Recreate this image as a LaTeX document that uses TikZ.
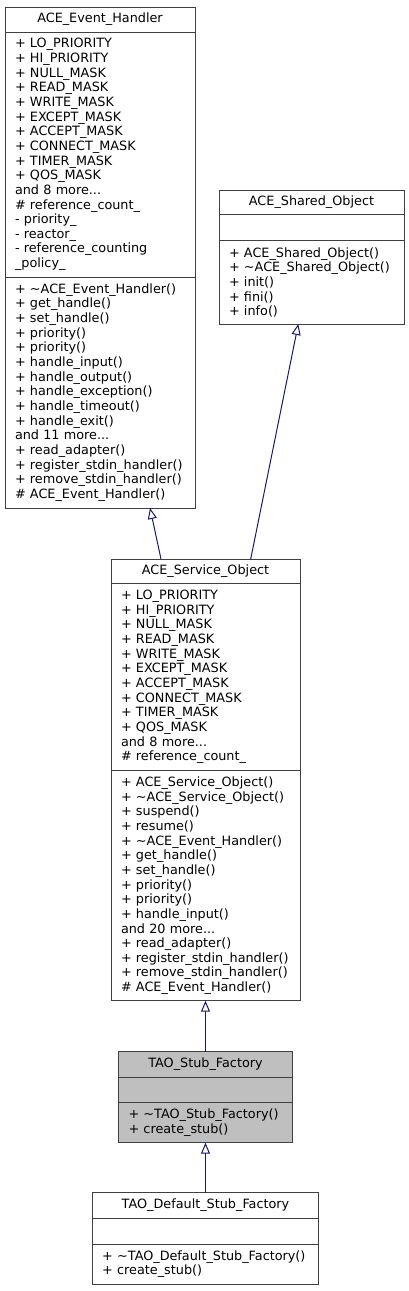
\documentclass[tikz,border=0pt]{standalone}
\usepackage{fontspec}
\newfontfamily\umlfont{DejaVu Sans}
\usetikzlibrary{positioning,arrows.meta}
\definecolor{boxline}{HTML}{404040}
\definecolor{edgeblue}{HTML}{191970}
\definecolor{focusgray}{HTML}{BFBFBF}

\tikzset{
	part/.style={draw=boxline, fill=white, line width=1pt, outer sep=0pt, inner xsep=10pt, inner ysep=0pt, font=\umlfont\fontsize{12.8}{14.65}\selectfont},
	classname/.style={part, align=center, minimum height=25pt},
	members/.style={part, align=left},
	focus/.style={fill=focusgray},
	inherit/.style={edgeblue, line width=1pt, -{Triangle[open, length=11pt, width=9pt, fill=white]}}
}

\begin{document}
\begin{tikzpicture}[x=1pt, y=-1pt]
\useasboundingbox (0,0) rectangle (409,1291);

% ACE_Event_Handler
\node (handler) at (5,7) [classname, anchor=north west, text width=170pt] {ACE\_Event\_Handler};
\node (handler-a) [members, below=0pt of handler, text width=170pt, minimum height=245pt] {+~LO\_PRIORITY\\+~HI\_PRIORITY\\+~NULL\_MASK\\+~READ\_MASK\\+~WRITE\_MASK\\+~EXCEPT\_MASK\\+~ACCEPT\_MASK\\+~CONNECT\_MASK\\+~TIMER\_MASK\\+~QOS\_MASK\\and 8 more...\\\#~reference\_count\_\\-~priority\_\\-~reactor\_\\-~reference\_counting\\\_policy\_};
\node (handler-m) [members, below=0pt of handler-a, text width=170pt, minimum height=231pt] {+~\textasciitilde ACE\_Event\_Handler()\\+~get\_handle()\\+~set\_handle()\\+~priority()\\+~priority()\\+~handle\_input()\\+~handle\_output()\\+~handle\_exception()\\+~handle\_timeout()\\+~handle\_exit()\\and 11 more...\\+~read\_adapter()\\+~register\_stdin\_handler()\\+~remove\_stdin\_handler()\\\#~ACE\_Event\_Handler()};

% ACE_Shared_Object
\node (shared) at (219,190) [classname, anchor=north west, text width=165pt, minimum height=24.3pt] {ACE\_Shared\_Object};
\node (shared-a) [members, below=0pt of shared, text width=165pt, minimum height=26.4pt] {};
\node (shared-m) [members, below=0pt of shared-a, text width=165pt, minimum height=83.3pt] {+~ACE\_Shared\_Object()\\+~\textasciitilde ACE\_Shared\_Object()\\+~init()\\+~fini()\\+~info()};

% ACE_Service_Object
\node (service) at (111,559) [classname, anchor=north west, text width=169pt, minimum height=24pt] {ACE\_Service\_Object};
\node (service-a) [members, below=0pt of service, text width=169pt, minimum height=187.7pt] {+~LO\_PRIORITY\\+~HI\_PRIORITY\\+~NULL\_MASK\\+~READ\_MASK\\+~WRITE\_MASK\\+~EXCEPT\_MASK\\+~ACCEPT\_MASK\\+~CONNECT\_MASK\\+~TIMER\_MASK\\+~QOS\_MASK\\and 8 more...\\\#~reference\_count\_};
\node (service-m) [members, below=0pt of service-a, text width=169pt, minimum height=230pt] {+~ACE\_Service\_Object()\\+~\textasciitilde ACE\_Service\_Object()\\+~suspend()\\+~resume()\\+~\textasciitilde ACE\_Event\_Handler()\\+~get\_handle()\\+~set\_handle()\\+~priority()\\+~priority()\\+~handle\_input()\\and 20 more...\\+~read\_adapter()\\+~register\_stdin\_handler()\\+~remove\_stdin\_handler()\\\#~ACE\_Event\_Handler()};

% TAO_Stub_Factory
\node (stub) at (118.5,1051.7) [classname, focus, anchor=north west, text width=154pt, minimum height=25.6pt] {TAO\_Stub\_Factory};
\node (stub-a) [members, focus, below=0pt of stub, text width=154pt, minimum height=25.4pt] {};
\node (stub-m) [members, focus, below=0pt of stub-a, text width=154pt, minimum height=40pt] {+~\textasciitilde TAO\_Stub\_Factory()\\+~create\_stub()};

% TAO_Default_Stub_Factory
\node (default) at (92.2,1192.7) [classname, anchor=north west, text width=206.6pt, minimum height=25.6pt] {TAO\_Default\_Stub\_Factory};
\node (default-a) [members, below=0pt of default, text width=206.6pt, minimum height=25.7pt] {};
\node (default-m) [members, below=0pt of default-a, text width=206.6pt, minimum height=40pt] {+~\textasciitilde TAO\_Default\_Stub\_Factory()\\+~create\_stub()};

\draw [inherit] ([xshift=-44.5pt]service.north) -- ([xshift=50pt]handler-m.south);
\draw [inherit] ([xshift=45.2pt]service.north) -- ([xshift=-13.2pt]shared-m.south);
\draw [inherit] (stub.north) -- (service-m.south);
\draw [inherit] (default.north) -- (stub-m.south);
\end{tikzpicture}
\end{document}
